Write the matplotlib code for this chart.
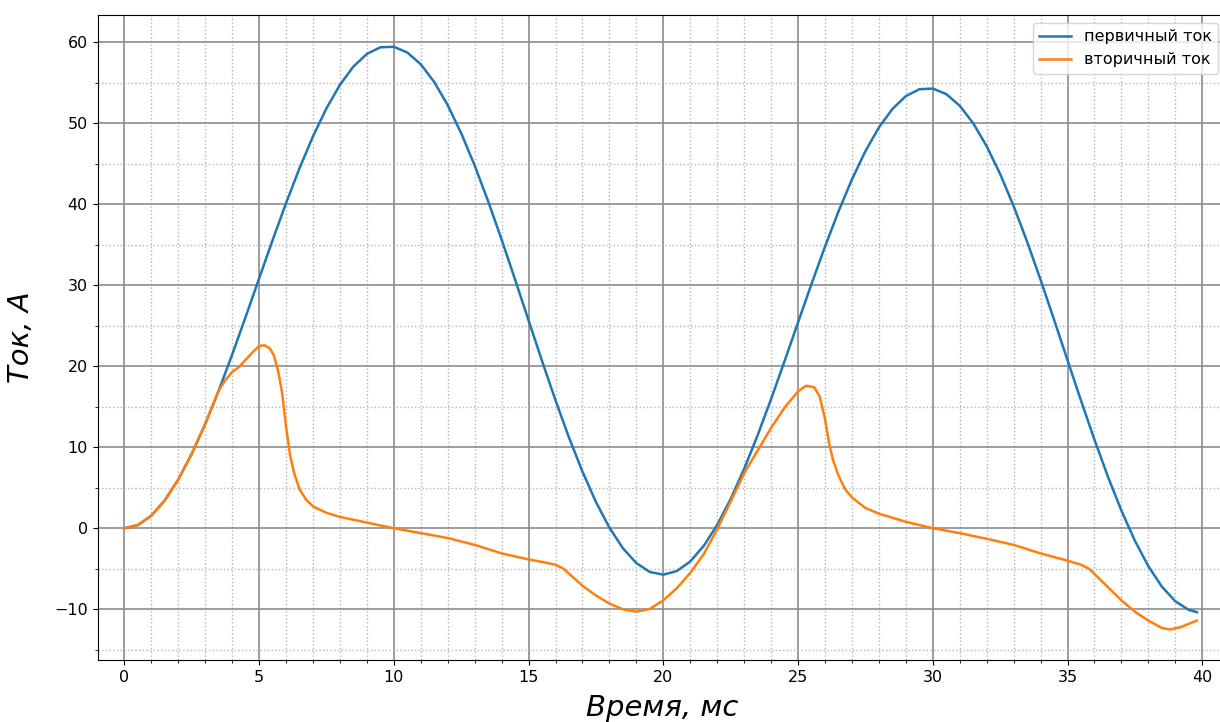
import matplotlib
matplotlib.use('Agg')
import matplotlib.pyplot as plt
from matplotlib.ticker import MultipleLocator

t_prim = [i * 0.5 for i in range(80)] + [39.8]
i_prim = [0.0, 0.40, 1.56, 3.45, 6.02, 9.19, 12.88, 17.00, 21.45, 26.10,
          30.85, 35.57, 40.15, 44.46, 48.39, 51.85, 54.75, 57.00, 58.56, 59.38,
          59.44, 58.73, 57.27, 55.08, 52.22, 48.76, 44.77, 40.36, 35.63, 30.68,
          25.65, 20.64, 15.78, 11.19, 6.98, 3.24, 0.07, -2.47, -4.30, -5.40,
          -5.73, -5.28, -4.09, -2.17, 0.42, 3.62, 7.34, 11.49, 15.96, 20.65,
          25.42, 30.17, 34.77, 39.11, 43.07, 46.56, 49.48, 51.76, 53.35, 54.20,
          54.28, 53.60, 52.16, 50.00, 47.16, 43.73, 39.77, 35.38, 30.67, 25.75,
          20.74, 15.76, 10.93, 6.36, 2.17, -1.54, -4.69, -7.20, -9.01, -10.08,
          -10.36]

# secondary current (CT saturation), denser around the sharp parts
t_sec = [0.0, 0.5, 1.0, 1.5, 2.0, 2.5, 3.0, 3.5, 3.75, 4.0, 4.25, 4.5, 4.75,
         5.0, 5.2, 5.4, 5.55, 5.7, 5.85, 6.0, 6.15, 6.3, 6.5, 6.75, 7.0, 7.5,
         8.0, 9.0, 10.0, 11.0, 12.0, 13.0, 14.0, 15.0, 15.5, 16.0, 16.3, 16.6,
         17.0, 17.5, 18.0, 18.5, 19.0, 19.5, 20.0, 20.5, 21.0, 21.5, 22.0,
         22.5, 23.0, 23.5, 24.0, 24.5, 25.0, 25.3, 25.6, 25.8, 26.0, 26.15,
         26.3, 26.5, 26.75, 27.0, 27.5, 28.0, 29.0, 30.0, 31.0, 32.0, 33.0,
         34.0, 35.0, 35.5, 35.8, 36.2, 36.6, 37.0, 37.5, 38.0, 38.5, 38.8,
         39.2, 39.8]
i_sec = [0.0, 0.40, 1.56, 3.45, 6.02, 9.19, 12.88, 17.0, 18.3, 19.3, 19.9,
         20.8, 21.7, 22.5, 22.6, 22.2, 21.3, 19.5, 16.8, 12.5, 9.0, 6.8, 4.8,
         3.5, 2.7, 1.9, 1.4, 0.7, 0.0, -0.6, -1.2, -2.05, -3.1, -3.85, -4.15,
         -4.5, -5.0, -5.9, -7.1, -8.3, -9.3, -10.0, -10.3, -9.95, -8.9, -7.4,
         -5.5, -3.2, -0.1, 3.3, 6.8, 9.6, 12.4, 14.9, 16.9, 17.6, 17.4, 16.3,
         13.5, 10.5, 8.4, 6.5, 4.8, 3.8, 2.5, 1.8, 0.8, 0.0, -0.6, -1.3,
         -2.05, -3.1, -4.0, -4.5, -5.0, -6.3, -7.6, -8.9, -10.3, -11.4, -12.3,
         -12.5, -12.2, -11.4]

labels = ['первичный ток', 'вторичный ток']

fig = plt.figure(figsize=(12.2, 7.22), dpi=100)
# axes run slightly past the right edge, like the cropped original
ax = fig.add_axes([0.0801, 0.0859, 0.9248, 0.8934])

ax.plot(t_prim, i_prim, color='#1f77b4', lw=1.8, label=labels[0])
ax.plot(t_sec, i_sec, color='#ff7f0e', lw=1.8, label=labels[1])

ax.set_xlim(-0.99, 40.88)
ax.set_ylim(-16.26, 63.37)
ax.xaxis.set_major_locator(MultipleLocator(5))
ax.xaxis.set_minor_locator(MultipleLocator(1))
ax.yaxis.set_major_locator(MultipleLocator(10))
ax.yaxis.set_minor_locator(MultipleLocator(5))
ax.grid(which='major', color='#8c8c8c', lw=1.2, ls='-')
ax.grid(which='minor', color='#b4b4b4', lw=1.0, ls=':')
ax.tick_params(labelsize=11.5)

ax.set_xlabel('Время, мс', fontsize=21, style='italic', labelpad=7)
ax.set_ylabel('Ток, А', fontsize=21, style='italic', labelpad=14)
ax.legend(loc='upper right', fontsize=11.5)

fig.savefig('out.png', dpi=100)
plt.close()
